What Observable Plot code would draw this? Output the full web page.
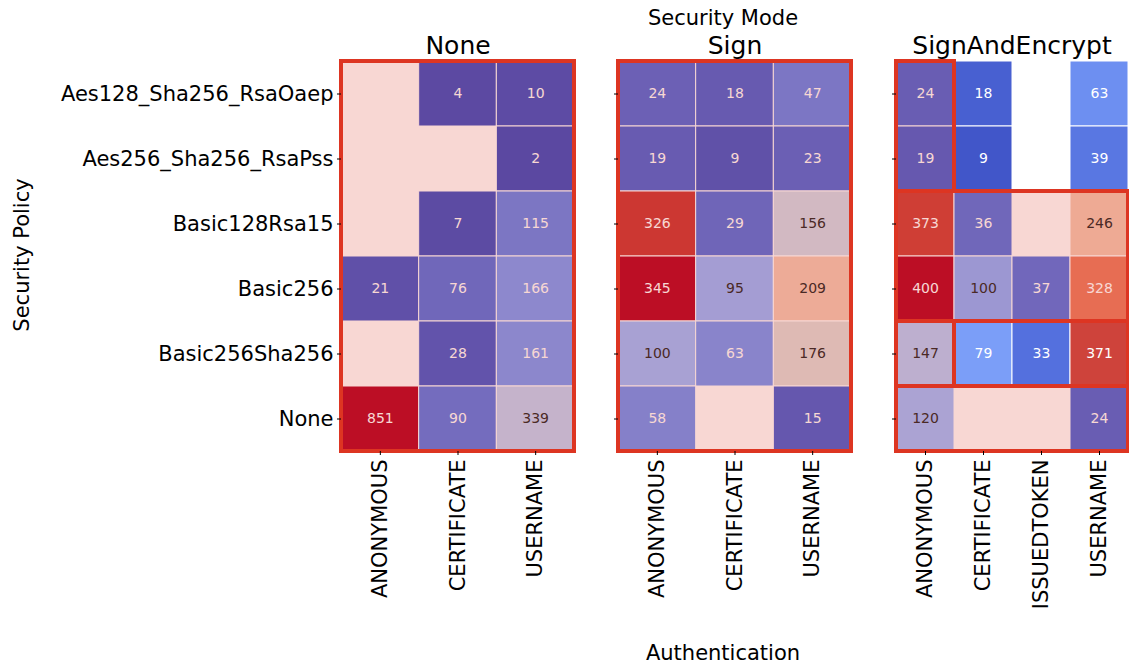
<!DOCTYPE html>
<html>
<head>
<meta charset="utf-8">
<script src="https://cdn.jsdelivr.net/npm/d3@7"></script>
<script src="https://cdn.jsdelivr.net/npm/@observablehq/plot@0.6"></script>
<style>
  body { margin: 0; background: #fff; }
  #chart { position: relative; width: 1129px; height: 666px; overflow: hidden;
           font-family: "DejaVu Sans", sans-serif; color: #000; }
  #chart svg { position: absolute; left: 0; top: 0; }
  .lbl { position: absolute; transform: translate(-50%, -50%); white-space: nowrap; line-height: 1; }
</style>
</head>
<body>
<div id="chart"></div>
<script>
// Security policies (rows, top to bottom)
const policies = ["Aes128_Sha256_RsaOaep", "Aes256_Sha256_RsaPss", "Basic128Rsa15", "Basic256", "Basic256Sha256", "None"];

// Authentication methods seen under each security mode (columns)
const authNone = ["ANONYMOUS", "CERTIFICATE", "USERNAME"];
const authSign = ["ANONYMOUS", "CERTIFICATE", "USERNAME"];
const authEncrypt = ["ANONYMOUS", "CERTIFICATE", "ISSUEDTOKEN", "USERNAME"];

// Server counts, one row per policy; null = no servers
const countsNone = [
  [null, 4, 10],
  [null, null, 2],
  [null, 7, 115],
  [21, 76, 166],
  [null, 28, 161],
  [851, 90, 339]
];
const countsSign = [
  [24, 18, 47],
  [19, 9, 23],
  [326, 29, 156],
  [345, 95, 209],
  [100, 63, 176],
  [58, null, 15]
];
const countsEncrypt = [
  [24, 18, null, 63],
  [19, 9, null, 39],
  [373, 36, null, 246],
  [400, 100, 37, 328],
  [147, 79, 33, 371],
  [120, null, null, 24]
];

// Insecure configuration blocks: [first auth, last auth, first policy, last policy, shaded]
const blocksNone = [["ANONYMOUS", "USERNAME", "Aes128_Sha256_RsaOaep", "None", true]];
const blocksSign = [["ANONYMOUS", "USERNAME", "Aes128_Sha256_RsaOaep", "None", true]];
const blocksEncrypt = [
  ["ANONYMOUS", "ANONYMOUS", "Aes128_Sha256_RsaOaep", "Aes256_Sha256_RsaPss", true],
  ["ANONYMOUS", "USERNAME", "Basic128Rsa15", "Basic256", true],
  ["ANONYMOUS", "ANONYMOUS", "Basic256Sha256", "Basic256Sha256", true],
  ["CERTIFICATE", "USERNAME", "Basic256Sha256", "Basic256Sha256", false],
  ["ANONYMOUS", "USERNAME", "None", "None", true]
];

// Moreland's cool-warm diverging map, 33 evenly spaced stops
const cwR = [0.2298057,0.26623388,0.30386891,0.342804478,0.38301334,0.424369608,0.46666708,0.509635204,0.552953156,0.596262162,0.639176211,0.681291281,0.722193294,0.761464949,0.798691636,0.833466556,0.865395197,0.897787179,0.924127593,0.944468518,0.958852946,0.96732803,0.969954137,0.966811177,0.958003065,0.943660866,0.923944917,0.89904617,0.869186849,0.834620542,0.795631745,0.752534934,0.705673158];
const cwG = [0.298717966,0.353094838,0.406535296,0.458757618,0.50941904,0.558148092,0.604562568,0.648280772,0.688929332,0.726149107,0.759599947,0.788964712,0.813952739,0.834302879,0.849786142,0.860207984,0.86541021,0.848937047,0.827384882,0.800927443,0.769767752,0.734132809,0.694266682,0.650421156,0.602842431,0.551750968,0.49730856,0.439559467,0.378313092,0.312874446,0.24128379,0.157246067,0.01555616];
const cwB = [0.753683153,0.801466763,0.84495867,0.883725899,0.917387822,0.945619588,0.968154911,0.98478814,0.995375608,0.999836203,0.998151185,0.990363227,0.976574709,0.956945269,0.931688648,0.901068838,0.865395561,0.820880546,0.774508472,0.726736146,0.678007945,0.628751763,0.579375448,0.530263762,0.481775914,0.434243684,0.387970225,0.343229596,0.300267182,0.259301199,0.220525627,0.184115123,0.150232812];
const coolwarm = d3.piecewise(d3.interpolateRgb, cwR.map((r, i) => d3.rgb(r * 255, cwG[i] * 255, cwB[i] * 255)));

const W = 1129, H = 666;
const TOP = 61, BOTTOM = 451;
const RED = "#dd3522";
const FONT = "DejaVu Sans";

// relative luminance, used to pick light or dark annotation text
function luminance(c) {
  const lin = v => { v /= 255; return v <= 0.03928 ? v / 12.92 : Math.pow((v + 0.055) / 1.055, 2.4); };
  const rgb = d3.rgb(c);
  return 0.2126 * lin(rgb.r) + 0.7152 * lin(rgb.g) + 0.0722 * lin(rgb.b);
}

function panel(auth, counts, blocks, left, right, showPolicyLabels) {
  const cells = [];
  counts.forEach((row, j) => row.forEach((v, i) => { if (v != null) cells.push({i, j, v}); }));
  const vmax = d3.max(cells, d => d.v);
  cells.forEach(d => { d.dark = luminance(coolwarm(d.v / vmax)) > 0.408; });
  const boxes = blocks.map(([a0, a1, p0, p1, shaded]) => ({
    x1: auth.indexOf(a0), x2: auth.indexOf(a1) + 1,
    y1: policies.indexOf(p0), y2: policies.indexOf(p1) + 1, shaded
  }));
  const cx = d => d.i + 0.5, cy = d => d.j + 0.5;
  return Plot.plot({
    width: W, height: H,
    marginLeft: left, marginRight: W - right, marginTop: TOP, marginBottom: H - BOTTOM,
    style: {background: "transparent", overflow: "visible", fontFamily: FONT},
    x: {domain: [0, auth.length]},
    y: {domain: [0, policies.length], reverse: true},
    color: {type: "linear", domain: [0, vmax], interpolate: coolwarm},
    marks: [
      Plot.rect(cells, {x1: "i", x2: d => d.i + 1, y1: "j", y2: d => d.j + 1, fill: "v", stroke: "white", strokeWidth: 1}),
      Plot.text(cells.filter(d => d.dark), {x: cx, y: cy, text: "v", fill: "#262626", fontSize: 14}),
      Plot.text(cells.filter(d => !d.dark), {x: cx, y: cy, text: "v", fill: "white", fontSize: 14}),
      Plot.rect(boxes.filter(d => d.shaded), {x1: "x1", x2: "x2", y1: "y1", y2: "y2", fill: RED, fillOpacity: 0.2}),
      Plot.rect(boxes, {x1: "x1", x2: "x2", y1: "y1", y2: "y2", fill: "none", stroke: RED, strokeWidth: 4}),
      Plot.axisX({
        ticks: auth.map((d, i) => i + 0.5), tickFormat: t => auth[Math.floor(t)],
        tickRotate: -90, tickSize: 4, tickPadding: 4, fontSize: 21, label: null
      }),
      Plot.axisY({
        ticks: policies.map((d, i) => i + 0.5),
        tickFormat: t => showPolicyLabels ? policies[Math.floor(t)] : "",
        tickSize: 4, tickPadding: 4, fontSize: 21, label: null
      })
    ]
  });
}

const chart = document.getElementById("chart");
chart.append(
  panel(authNone, countsNone, blocksNone, 341, 574, true),
  panel(authSign, countsSign, blocksSign, 618, 851, false),
  panel(authEncrypt, countsEncrypt, blocksEncrypt, 896, 1128, false)
);

function label(text, x, y, size, rotate) {
  const el = document.createElement("div");
  el.className = "lbl";
  el.textContent = text;
  el.style.left = x + "px";
  el.style.top = y + "px";
  el.style.fontSize = size + "px";
  if (rotate) el.style.transform = "translate(-50%, -50%) rotate(-90deg)";
  chart.append(el);
}
label("Security Mode", 723, 18, 21);
label("None", 458, 45, 25);
label("Sign", 735, 45, 25);
label("SignAndEncrypt", 1012, 45, 25);
label("Authentication", 723, 653, 21);
label("Security Policy", 22, 255, 21, true);
</script>
</body>
</html>
